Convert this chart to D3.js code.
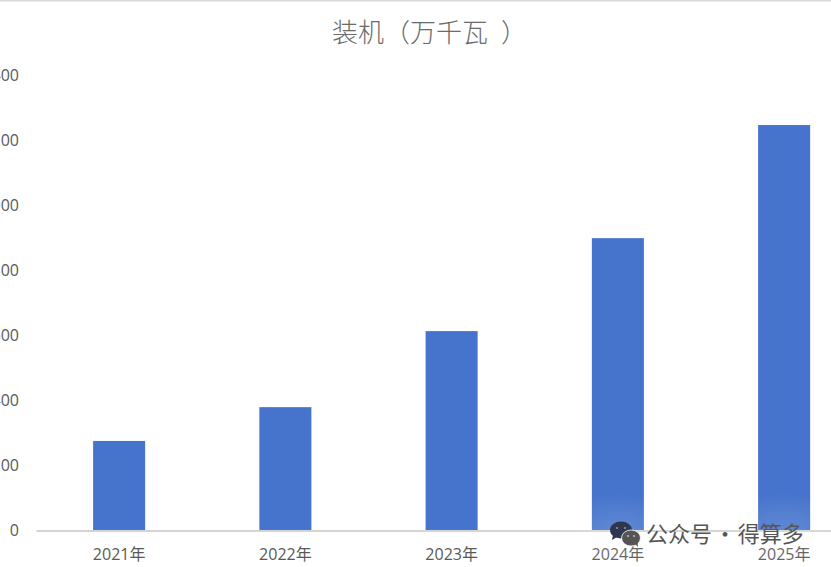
<!DOCTYPE html>
<html><head><meta charset="utf-8">
<script src="https://cdn.jsdelivr.net/npm/d3@7/dist/d3.min.js"></script>
<style>html,body{margin:0;padding:0;background:#fff;overflow:hidden}svg{display:block}</style>
</head><body><svg id="c" width="831" height="567"></svg>
<script>
const categories = ["2021年","2022年","2023年","2024年","2025年"];
const values = [274, 378, 612, 898, 1246];
const yTicks = [0,200,400,600,800,1000,1200,1400];
const titleMain = "装机（万千瓦";
const titleClose = "）";
const watermarkText = "公众号 · 得算多";

const svg = d3.select("#c");
const cjk = "'Noto Sans CJK SC','Noto Sans',sans-serif";
const latin = "'Open Sans','Noto Sans CJK SC',sans-serif";
const x = d3.scaleBand().domain(categories).range([36,867.25]).paddingInner(0.687).paddingOuter(0.3435);
const y = d3.scaleLinear().domain([0,1400]).range([530.5,75.5]);

svg.append("rect").attr("x",0).attr("y",0).attr("width",831).attr("height",1.5).attr("fill","#d9d9d9");

const title = svg.append("text").attr("x",332).attr("y",42)
  .attr("font-family",cjk).attr("font-weight",300).attr("font-size",26).attr("fill","#6b6b6b");
title.append("tspan").text(titleMain);
title.append("tspan").attr("dx",13).text(titleClose);

svg.append("g").selectAll("rect").data(values).join("rect")
  .attr("x",(d,i)=>x(categories[i])).attr("width",x.bandwidth())
  .attr("y",d=>y(d)-0.5).attr("height",d=>y(0)-y(d)+0.5).attr("fill","#4674cc");

const xAxis = d3.axisBottom(x).tickSize(0).tickPadding(18);
const gx = svg.append("g").attr("transform",`translate(0,${y(0)})`).call(xAxis);
gx.select(".domain").attr("stroke","#d4d4d4").attr("stroke-width",2);
gx.selectAll("text").attr("font-family",latin).attr("font-size",16).attr("fill","#595959");

const yAxis = d3.axisLeft(y).tickValues(yTicks).tickSize(0).tickPadding(0);
const gy = svg.append("g").attr("transform","translate(19,0)").call(yAxis);
gy.select(".domain").remove();
gy.selectAll("text").attr("font-family",latin).attr("font-size",16).attr("fill","#595959");

// watermark
const defs = svg.append("defs");
const grad = defs.append("radialGradient").attr("id","glow");
grad.append("stop").attr("offset","0").attr("stop-color","#fff").attr("stop-opacity",0.16);
grad.append("stop").attr("offset","0.6").attr("stop-color","#fff").attr("stop-opacity",0.07);
grad.append("stop").attr("offset","1").attr("stop-color","#fff").attr("stop-opacity",0);
svg.append("ellipse").attr("cx",618).attr("cy",535).attr("rx",70).attr("ry",42).attr("fill","url(#glow)");
svg.append("ellipse").attr("cx",784).attr("cy",535).attr("rx",70).attr("ry",42).attr("fill","url(#glow)");

const wm = svg.append("g");
wm.append("ellipse").attr("cx",621).attr("cy",530).attr("rx",11).attr("ry",8.500).attr("fill","#2f3650");
wm.append("path").attr("d","M613 535l-1 5 5-3z").attr("fill","#2f3650");
wm.append("ellipse").attr("cx",631).attr("cy",538).attr("rx",9.500).attr("ry",8).attr("fill","#555").attr("stroke","#fff").attr("stroke-width",.8);
wm.append("path").attr("d","M635 544l3 3-.5-5z").attr("fill","#555");
[[617,528],[625,528]].forEach(p=>wm.append("circle").attr("cx",p[0]).attr("cy",p[1]).attr("r",1.100).attr("fill","#8a8fa0"));
[[628,536],[634,536]].forEach(p=>wm.append("circle").attr("cx",p[0]).attr("cy",p[1]).attr("r",1).attr("fill","#bbb"));
wm.append("text").attr("x",646).attr("y",542).attr("font-family",cjk).attr("font-size",22).attr("word-spacing",-3).attr("fill","#555").text(watermarkText);
</script></body></html>
